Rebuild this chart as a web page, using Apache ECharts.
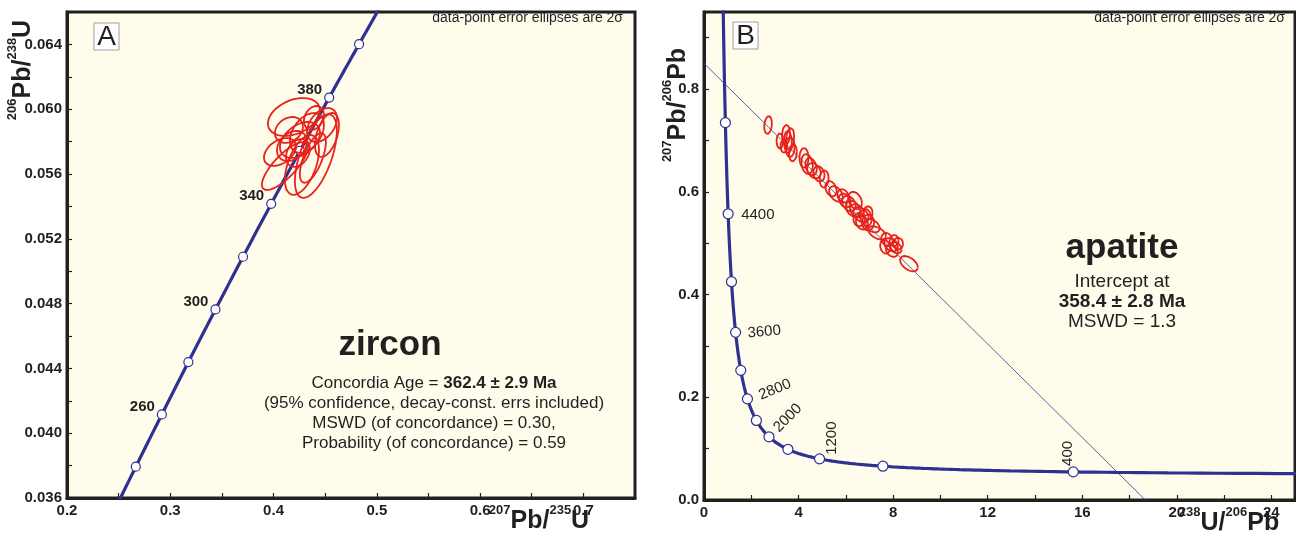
<!DOCTYPE html>
<html>
<head>
<meta charset="utf-8">
<script src="https://cdn.jsdelivr.net/npm/echarts@6/dist/echarts.min.js"></script>
<style>
  html, body { margin: 0; padding: 0; background: #ffffff; }
  #chart { width: 1296px; height: 536px; }
</style>
</head>
<body>
<div id="chart"></div>
<script>
// Decay constants (per year) and present-day 238U/235U
const LAMBDA_238 = 1.55125e-10;
const LAMBDA_235 = 9.8485e-10;
const U238_U235 = 137.88;

// ---- Panel A: zircon, Wetherill concordia ----
// age marks on the concordia (Ma) and which of them carry a label
const zirconAgeMarks = [240, 260, 280, 300, 320, 340, 360, 380, 400];
const zirconAgeLabels = [260, 300, 340, 380];
// 2-sigma error ellipses: 207Pb/235U, 206Pb/238U, 2s(x), 2s(y), correlation
const zirconX   = [0.4197, 0.4410, 0.4517, 0.4110, 0.4275, 0.4256, 0.4178, 0.4323, 0.4381, 0.4149, 0.4469, 0.4236, 0.4391, 0.4062];
const zirconY   = [0.05952, 0.05711, 0.05841, 0.05649, 0.05656, 0.05810, 0.05773, 0.05853, 0.05699, 0.05872, 0.05902, 0.05730, 0.05946, 0.05736];
const zirconSx  = [0.0252, 0.0203, 0.0116, 0.0223, 0.0165, 0.0194, 0.0145, 0.0165, 0.0126, 0.0136, 0.0145, 0.0116, 0.0097, 0.0155];
const zirconSy  = [0.00117, 0.00259, 0.00136, 0.00148, 0.00185, 0.00111, 0.00093, 0.00123, 0.00154, 0.00080, 0.00105, 0.00086, 0.00074, 0.00086];
const zirconRho = [0.35, 0.60, 0.45, 0.78, 0.50, 0.40, 0.30, 0.40, 0.65, 0.25, 0.40, 0.30, 0.25, 0.40];

// ---- Panel B: apatite, Tera-Wasserburg concordia ----
const apatiteAgeMarks = [400, 800, 1200, 1600, 2000, 2400, 2800, 3200, 3600, 4000, 4400, 4800];
const apatiteAgeLabels = [400, 1200, 2000, 2800, 3600, 4400];
// 2-sigma error ellipses: 238U/206Pb, 207Pb/206Pb, 2s(x), 2s(y), correlation
const apatiteX   = [2.71, 3.21, 3.47, 3.55, 3.64, 3.76, 3.38, 4.23, 4.36, 4.53, 4.65, 4.86, 5.08, 5.37, 5.58, 5.88, 6.13, 6.39, 6.47, 6.64, 6.85, 6.56, 6.94, 7.11, 7.32, 7.74, 7.91, 8.04, 8.12, 8.67, 3.64, 6.30, 6.68, 6.94, 7.66, 7.95, 8.21, 5.96];
const apatiteY   = [0.730, 0.699, 0.711, 0.697, 0.687, 0.676, 0.689, 0.666, 0.654, 0.649, 0.641, 0.635, 0.625, 0.606, 0.596, 0.592, 0.577, 0.583, 0.563, 0.555, 0.550, 0.546, 0.559, 0.534, 0.520, 0.507, 0.497, 0.505, 0.491, 0.460, 0.703, 0.567, 0.540, 0.540, 0.493, 0.485, 0.499, 0.583];
const apatiteSx  = [0.160, 0.140, 0.165, 0.165, 0.190, 0.165, 0.140, 0.190, 0.240, 0.240, 0.290, 0.240, 0.190, 0.240, 0.290, 0.240, 0.290, 0.290, 0.290, 0.330, 0.240, 0.240, 0.190, 0.330, 0.380, 0.240, 0.290, 0.190, 0.240, 0.380, 0.170, 0.300, 0.255, 0.255, 0.210, 0.255, 0.210, 0.255];
const apatiteSy  = [0.0175, 0.0150, 0.0195, 0.0215, 0.0195, 0.0170, 0.0130, 0.0195, 0.0195, 0.0170, 0.0150, 0.0150, 0.0170, 0.0150, 0.0150, 0.0130, 0.0150, 0.0170, 0.0130, 0.0150, 0.0170, 0.0130, 0.0130, 0.0130, 0.0130, 0.0130, 0.0130, 0.0110, 0.0110, 0.0150, 0.0215, 0.0155, 0.0136, 0.0155, 0.0136, 0.0117, 0.0117, 0.0136];
const apatiteRho = [0.2, 0.0, 0.1, -0.1, 0.0, 0.1, 0.0, 0.0, -0.2, -0.3, -0.3, -0.2, 0.1, -0.3, -0.4, -0.2, -0.3, -0.3, -0.3, -0.4, -0.2, 0.0, 0.0, -0.4, -0.5, -0.2, -0.3, 0.0, -0.3, -0.5, 0.2, -0.3, -0.2, 0.0, -0.2, -0.3, 0.0, -0.3];
// regression: lower intercept age (Ma) and common-Pb 207Pb/206Pb
const interceptAgeMa = 358.4;
const commonPb76 = 0.850;

// ---- axis tick settings ----
const axisA = { xMin: 0.2, xMax: 0.75, xStep: 0.1, yMin: 0.036, yMax: 0.066, yStep: 0.004 };
const axisB = { xMin: 0, xMax: 25, xStep: 4, yMin: 0, yMax: 0.95, yStep: 0.2 };

// ---------------------------------------------------------------
const INK = '#231f20';
const CURVE = '#2e3192';
const RED = '#e8221b';
const FONT = '"Liberation Sans", Arial, sans-serif';

function wetherill(tMa) {
  const t = tMa * 1e6;
  return [Math.exp(LAMBDA_235 * t) - 1, Math.exp(LAMBDA_238 * t) - 1];
}
function teraWasserburg(tMa) {
  const t = tMa * 1e6;
  const r68 = Math.exp(LAMBDA_238 * t) - 1;
  const r75 = Math.exp(LAMBDA_235 * t) - 1;
  return [1 / r68, r75 / r68 / U238_U235];
}
// covariance ellipse from marginal half-widths and correlation
function ellipse(cx, cy, sx, sy, rho) {
  const pts = [];
  const k = Math.sqrt(1 - rho * rho);
  const n = 90;
  for (let i = 0; i <= n; i++) {
    const a = 2 * Math.PI * i / n;
    pts.push([cx + sx * Math.cos(a), cy + sy * (rho * Math.cos(a) + k * Math.sin(a))]);
  }
  return pts;
}

const curveA = [];
for (let t = 200; t <= 440; t += 2) curveA.push(wetherill(t));
const curveB = [];
for (let t = 220; t <= 5600; t += 10) curveB.push(teraWasserburg(t));

const lowerPt = teraWasserburg(interceptAgeMa);
const slope = (lowerPt[1] - commonPb76) / lowerPt[0];
const discordia = [[0, commonPb76], [-commonPb76 / slope, 0]];

// label placement for the T-W age marks (offset from mark, rotation in degrees)
const twLabelPlace = {
  400:  { dx: -5, dy: -6, rot: 90 },
  1200: { dx: 12, dy: -4, rot: 90 },
  2000: { dx: 7,  dy: -7, rot: 45 },
  2800: { dx: 12, dy: -3, rot: 22 },
  3600: { dx: 12, dy: 1,  rot: 5 },
  4400: { dx: 13, dy: 1,  rot: 0 }
};

function valueAxis(grid, a, isX, fmt) {
  return {
    gridIndex: grid, type: 'value',
    min: isX ? a.xMin : a.yMin, max: isX ? a.xMax : a.yMax, interval: isX ? a.xStep : a.yStep,
    axisLine: { show: true, onZero: false, lineStyle: { color: INK, width: 3 } },
    axisTick: { show: true, inside: true, length: 5, lineStyle: { color: INK, width: 1.2 } },
    minorTick: { show: true, splitNumber: 2, length: 5, lineStyle: { color: INK, width: 1.2 } },
    splitLine: { show: false },
    axisLabel: {
      formatter: fmt, showMaxLabel: false, color: INK, fontWeight: 'bold',
      fontSize: 15, fontFamily: FONT, margin: 5
    }
  };
}

const series = [];
// Panel A
series.push({ type: 'line', xAxisIndex: 0, yAxisIndex: 0, data: curveA, symbol: 'none',
  lineStyle: { color: CURVE, width: 3.2 }, z: 2, silent: true });
series.push({ type: 'scatter', xAxisIndex: 0, yAxisIndex: 0,
  data: zirconAgeMarks.map(wetherill), symbol: 'circle', symbolSize: 9,
  itemStyle: { color: '#ffffff', borderColor: CURVE, borderWidth: 1.2, opacity: 1 }, z: 3, silent: true });
series.push({ type: 'custom', xAxisIndex: 0, yAxisIndex: 0,
  data: zirconAgeLabels.map(t => wetherill(t).concat([t])), z: 4, silent: true,
  renderItem: (params, api) => {
    const p = api.coord([api.value(0), api.value(1)]);
    return { type: 'text', x: p[0] - 7, y: p[1] - 8,
      style: { text: String(api.value(2)), fill: INK, font: 'bold 15px ' + FONT, align: 'right', verticalAlign: 'middle' } };
  } });
for (let i = 0; i < zirconX.length; i++) {
  series.push({ type: 'line', xAxisIndex: 0, yAxisIndex: 0,
    data: ellipse(zirconX[i], zirconY[i], zirconSx[i], zirconSy[i], zirconRho[i]),
    symbol: 'none', lineStyle: { color: RED, width: 1.8 }, z: 5, silent: true });
}
// Panel B
series.push({ type: 'line', xAxisIndex: 1, yAxisIndex: 1, data: discordia, symbol: 'none',
  lineStyle: { color: '#4a4fa8', width: 0.9 }, z: 2, silent: true });
series.push({ type: 'line', xAxisIndex: 1, yAxisIndex: 1, data: curveB, symbol: 'none',
  lineStyle: { color: CURVE, width: 3.2 }, z: 2, silent: true });
series.push({ type: 'scatter', xAxisIndex: 1, yAxisIndex: 1,
  data: apatiteAgeMarks.map(teraWasserburg), symbol: 'circle', symbolSize: 10,
  itemStyle: { color: '#ffffff', borderColor: CURVE, borderWidth: 1.2, opacity: 1 }, z: 3, silent: true });
series.push({ type: 'custom', xAxisIndex: 1, yAxisIndex: 1,
  data: apatiteAgeLabels.map(t => teraWasserburg(t).concat([t])), z: 4, silent: true,
  renderItem: (params, api) => {
    const p = api.coord([api.value(0), api.value(1)]);
    const age = api.value(2);
    const pl = twLabelPlace[age];
    return { type: 'text', x: p[0] + pl.dx, y: p[1] + pl.dy, rotation: pl.rot * Math.PI / 180,
      style: { text: String(age), fill: INK, font: '15px ' + FONT, align: 'left', verticalAlign: 'middle' } };
  } });
for (let i = 0; i < apatiteX.length; i++) {
  series.push({ type: 'line', xAxisIndex: 1, yAxisIndex: 1,
    data: ellipse(apatiteX[i], apatiteY[i], apatiteSx[i], apatiteSy[i], apatiteRho[i]),
    symbol: 'none', lineStyle: { color: RED, width: 1.8 }, z: 5, silent: true });
}

// axis titles: isotope names with raised mass numbers, laid out piece by piece
const measureCtx = document.createElement('canvas').getContext('2d');
const MAIN_FONT = 'bold 25px ' + FONT;
const SUP_FONT = 'bold 13px ' + FONT;
function isoTitle(cx, cy, parts, rot) {
  const pieces = parts.map(p => {
    const font = p[1] ? SUP_FONT : MAIN_FONT;
    measureCtx.font = font;
    return { text: p[0], font: font, sup: p[1], w: measureCtx.measureText(p[0]).width };
  });
  const total = pieces.reduce((s, p) => s + p.w, 0);
  let x = -total / 2;
  const children = pieces.map(p => {
    const el = { type: 'text', x: x, y: p.sup ? -11 : 0,
      style: { text: p.text, font: p.font, fill: INK, align: 'left', verticalAlign: 'middle' } };
    x += p.w;
    return el;
  });
  return { type: 'group', x: cx, y: cy, rotation: rot, z: 10, children: children };
}
function plain(x, y, text, size, weight, align) {
  return { type: 'text', x: x, y: y, z: 10,
    style: { text: text, fill: INK, font: (weight || 'normal') + ' ' + size + 'px ' + FONT,
      align: align || 'center', verticalAlign: 'middle' } };
}
function panelTag(x, y, letter) {
  return [
    { type: 'rect', shape: { x: x, y: y, width: 25, height: 27 }, z: 10,
      style: { fill: '#ffffff', stroke: '#a0a0a0', lineWidth: 1 } },
    plain(x + 12.5, y + 14, letter, 28, 'normal')
  ];
}
function mixedLine(cx, cy, parts, size) {
  const pieces = parts.map(p => {
    const font = (p[1] ? 'bold ' : 'normal ') + size + 'px ' + FONT;
    measureCtx.font = font;
    return { text: p[0], font: font, w: measureCtx.measureText(p[0]).width };
  });
  const total = pieces.reduce((s, p) => s + p.w, 0);
  let x = -total / 2;
  const children = pieces.map(p => {
    const el = { type: 'text', x: x, y: 0, style: { text: p.text, font: p.font, fill: INK, align: 'left', verticalAlign: 'middle' } };
    x += p.w;
    return el;
  });
  return { type: 'group', x: cx, y: cy, z: 10, children: children };
}

const graphics = [].concat(
  panelTag(94, 23, 'A'),
  panelTag(733, 22, 'B'),
  [
    plain(623, 18, 'data-point error ellipses are 2σ', 14, 'normal', 'right'),
    plain(1285, 18, 'data-point error ellipses are 2σ', 14, 'normal', 'right'),
    isoTitle(23, 70, [['206', true], ['Pb/', false], ['238', true], ['U', false]], Math.PI / 2),
    isoTitle(539, 521, [['207', true], ['Pb/', false], ['235', true], ['U', false]], 0),
    isoTitle(678, 105, [['207', true], ['Pb/', false], ['206', true], ['Pb', false]], Math.PI / 2),
    isoTitle(1229, 523, [['238', true], ['U/', false], ['206', true], ['Pb', false]], 0),
    plain(390, 345, 'zircon', 35, 'bold'),
    mixedLine(434, 383, [['Concordia Age = ', false], ['362.4 ± 2.9 Ma', true]], 17),
    plain(434, 403, '(95% confidence, decay-const. errs included)', 17),
    plain(434, 423, 'MSWD (of concordance) = 0.30,', 17),
    plain(434, 443, 'Probability (of concordance) = 0.59', 17),
    plain(1122, 248, 'apatite', 35, 'bold'),
    plain(1122, 282, 'Intercept at', 19),
    plain(1122, 302, '358.4 ± 2.8 Ma', 19, 'bold'),
    plain(1122, 322, 'MSWD = 1.3', 19)
  ]
);

const chart = echarts.init(document.getElementById('chart'));
chart.setOption({
  animation: false,
  backgroundColor: '#ffffff',
  grid: [
    { left: 67, top: 12, width: 568, height: 486, show: true, backgroundColor: '#fffcec', borderColor: INK, borderWidth: 3, containLabel: false },
    { left: 704, top: 12, width: 591, height: 488, show: true, backgroundColor: '#fffcec', borderColor: INK, borderWidth: 3, containLabel: false }
  ],
  xAxis: [
    valueAxis(0, axisA, true, v => v.toFixed(1)),
    valueAxis(1, axisB, true, v => String(Math.round(v)))
  ],
  yAxis: [
    valueAxis(0, axisA, false, v => v.toFixed(3)),
    valueAxis(1, axisB, false, v => v.toFixed(1))
  ],
  series: series,
  graphic: graphics
});
</script>
</body>
</html>
